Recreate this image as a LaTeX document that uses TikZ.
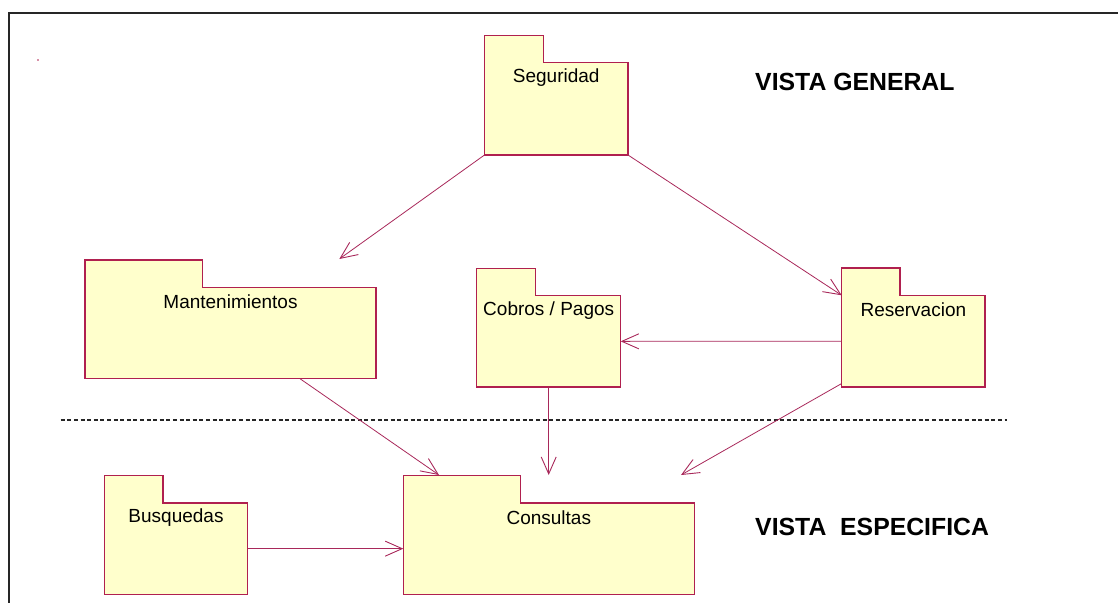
\documentclass[tikz,border=0pt]{standalone}
\usepackage{fontspec}
\setmainfont{Liberation Sans}
\usetikzlibrary{arrows.meta,fit,calc}

\definecolor{pkgfill}{HTML}{FFFFCC}
\definecolor{pkgedge}{HTML}{B0204F}
\definecolor{deplink}{HTML}{A8285A}

\tikzset{
  pkgshape/.style={fill=pkgfill, draw=pkgedge, line width=1.1pt, line join=miter},
  pkglabel/.style={font=\fontsize{19}{21}\selectfont, inner sep=0pt, text=black},
  deparrow/.style={draw=deplink, line width=0.8pt,
    -{Straight Barb[length=17pt,width=15pt,line width=0.9pt]}},
  viewtitle/.style={font=\bfseries\fontsize{24.8}{28}\selectfont, anchor=west, inner sep=0pt},
  frameline/.style={draw=black!85, line width=2.2pt},
  separator/.style={draw=black!85, line width=1.3pt, dash pattern=on 4pt off 2.6pt},
}

% UML package: name, body x1, body y1, body x2, body y2, tab width, label
\newcommand\umlpkg[7]{%
  \node[inner sep=0pt, outer sep=0pt, fit={(#2,#3) (#4,#5)}] (#1) {};
  \draw[pkgshape] (#1.north west) -- ++(0,-27.3) -- ++(#6,0) -- ++(0,27.3)
     -- (#1.north east) -- (#1.south east) -- (#1.south west) -- cycle;
  \node[pkglabel] (#1-label) at ([yshift=-14.5pt]#1.north) {#7};
}

\begin{document}
\begin{tikzpicture}[x=1pt,y=-1pt]
\useasboundingbox (0,0) rectangle (1118,603);

% frame
\draw[frameline] (1118,13) -- (9,13) -- (9,603);
\fill[pkgedge] (38,60) circle (0.9);

% packages
\umlpkg{seg}{484.5}{62.7}{628}{155}{58.8}{Seguridad}
\umlpkg{man}{85}{287.3}{376}{378.7}{117.3}{Mantenimientos}
\umlpkg{cob}{476.7}{295.7}{620.7}{387}{59}{Cobros / Pagos}
\umlpkg{res}{841.7}{295.3}{985}{387}{58.3}{Reservacion}
\umlpkg{con}{403.3}{503}{694.3}{594.3}{117}{Consultas}
\umlpkg{bus}{104.3}{503}{247.7}{594.3}{58.7}{Busquedas}

% view titles
\node[viewtitle] (general) at (755,82) {VISTA GENERAL};
\node[viewtitle] (especifica) at (755,527) {VISTA\ \ ESPECIFICA};

% separator between the two views
\draw[separator] (60.7,420) -- (1006.7,420);

% free arrow ends
\coordinate (manTop) at (339.3,259);
\coordinate (conTopL) at (439,475);
\coordinate (conTopM) at (548.7,475);
\coordinate (conTopR) at (681,475);

% dependencies
\draw[deparrow] (seg.south west) -- (manTop);
\draw[deparrow] (seg.south east) -- (res.north west);
\draw[deparrow] (res.west) -- (cob.east);
\draw[deparrow] ([yshift=3.5pt]res.south west) -- (conTopR);
\draw[deparrow] (cob.south) -- (conTopM);
\draw[deparrow] ([xshift=69.5pt]man.south) -- (conTopL);
\draw[deparrow] (bus.east) -- (con.west);
\end{tikzpicture}
\end{document}
